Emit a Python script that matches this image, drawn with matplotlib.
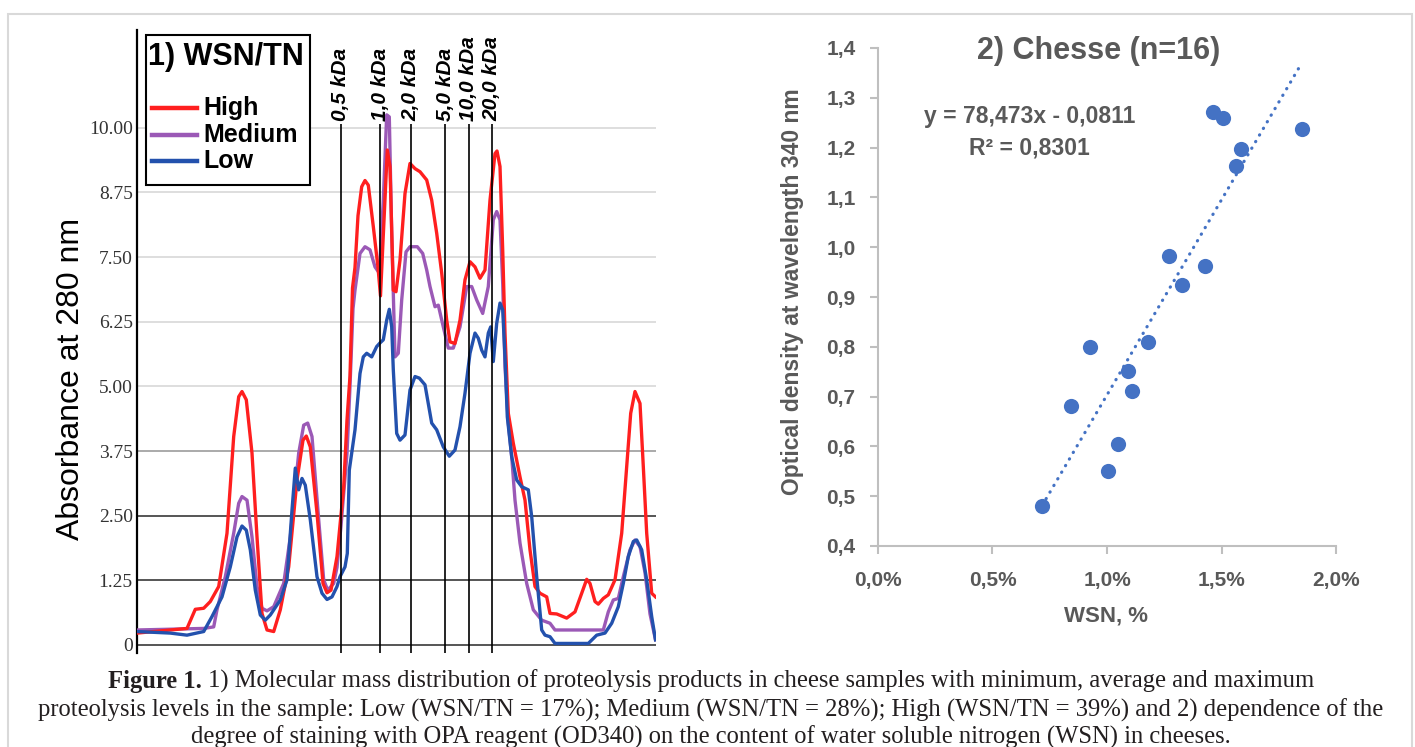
import numpy as np
import matplotlib.pyplot as plt
from matplotlib.lines import Line2D
from matplotlib.patches import Rectangle

plt.rcParams['font.family'] = ['Liberation Sans', 'DejaVu Sans']

# ---- panel 1: absorbance at 280 nm vs elution position (arbitrary units) ----
high_x = [137, 187, 195.3, 203.7, 210.3, 218.7, 227, 233.7, 238.7, 242, 246.3, 252, 257, 262, 267,
          273.7, 280.3, 288.7, 297, 303, 306.3, 310.3, 317, 323, 327, 331, 337, 343.7, 347, 350,
          352.5, 355, 358, 361.7, 365, 368.3, 373.3, 378, 380.5, 383, 387.3, 390, 393.3, 396, 400,
          405, 410, 415, 420, 426.7, 431.7, 436.7, 441.7, 446.7, 450, 455, 460, 465, 470, 475,
          480, 485, 490, 495, 497, 500, 502.7, 505, 508.3, 513.3, 520, 525, 530, 535, 540, 546.7,
          550, 556.7, 566.7, 575, 581.7, 586.7, 590, 595, 598.3, 603.3, 608.3, 615, 621.7, 626.7,
          630.7, 635, 640, 643.3, 646.7, 651.7, 655.5]
high_y = [0.23, 0.32, 0.69, 0.71, 0.84, 1.13, 2.16, 4.03, 4.80, 4.90, 4.74, 3.71, 2.09, 0.61, 0.29,
          0.26, 0.68, 1.51, 3.19, 3.96, 4.04, 3.83, 2.55, 1.19, 1.01, 1.06, 1.71, 3.06, 4.35, 5.2,
          6.9, 7.3, 8.3, 8.86, 8.98, 8.89, 8.09, 7.3, 6.75, 7.8, 9.57, 9.25, 6.86, 6.83, 7.44,
          8.73, 9.31, 9.21, 9.15, 8.99, 8.60, 7.96, 7.19, 6.28, 5.86, 5.83, 6.28, 7.06, 7.41, 7.31,
          7.09, 7.25, 8.60, 9.50, 9.55, 9.25, 7.64, 6.03, 4.48, 3.90, 3.25, 2.80, 1.84, 1.13, 1.00, 0.93,
          0.61, 0.60, 0.52, 0.64, 1.00, 1.27, 1.19, 0.84, 0.79, 0.90, 0.97, 1.26, 2.16, 3.45,
          4.48, 4.90, 4.67, 3.45, 2.16, 1.00, 0.93]

medium_x = [137, 203.7, 213.7, 217, 225.3, 233.7, 238.7, 242, 247, 252, 257, 262, 267, 273.7, 283.7,
            290.3, 298.7, 303.7, 307.7, 312, 318.7, 323.7, 327.7, 333.7, 337, 341, 344, 347, 350,
            353, 355, 360, 365, 370, 375, 379.3, 383.3, 386.7, 389.3, 391.7, 395, 398.3, 401.7,
            406, 410, 417.3, 422.7, 426.7, 430, 435, 438.3, 443.3, 448.3, 453.3, 460, 466.7, 471.7,
            476.7, 482.7, 488.3, 493.3, 496.7, 500, 502.7, 505, 508.3, 511.7, 515, 520, 526.7,
            533.3, 541.7, 550, 555, 603.3, 608.3, 613.3, 618.3, 623.3, 630, 635, 640, 645, 650, 655.5]
medium_y = [0.29, 0.32, 0.35, 0.68, 1.32, 2.16, 2.74, 2.87, 2.80, 2.09, 1.13, 0.71, 0.66, 0.74, 1.19,
            2.09, 3.71, 4.25, 4.29, 4.03, 2.42, 1.26, 1.06, 1.19, 1.5, 2.3, 3.0, 3.7, 5.0,
            6.5, 6.86, 7.57, 7.70, 7.64, 7.31, 7.19, 8.60, 10.25, 10.21, 7.96, 5.57, 5.64, 6.67,
            7.60, 7.70, 7.70, 7.57, 7.25, 6.93, 6.54, 6.57, 6.15, 5.74, 5.74, 6.15, 6.93, 6.93,
            6.67, 6.41, 6.93, 8.22, 8.38, 8.22, 7.0, 5.38, 4.29, 3.64, 2.80, 1.97, 1.19,
            0.68, 0.48, 0.42, 0.29, 0.29, 0.64, 0.87, 0.90, 1.32, 1.84, 2.03, 1.90, 1.4, 0.6, 0.1]

low_x = [137, 170.3, 187, 203.7, 212, 222, 230.3, 237, 242, 246.3, 250.3, 255.3, 260.3, 265.3, 270.3,
         280.3, 287, 292, 295.3, 298.7, 302, 305.3, 310.3, 317, 322, 327, 332, 337, 340, 345,
         347.3, 349.3, 351.7, 355, 360, 363.3, 366.7, 371.7, 376.7, 380, 383.3, 386.7, 389.3,
         391.7, 393.3, 396.7, 400, 405, 410, 415, 419.3, 425, 431.7, 436.7, 443.3, 449.3, 455,
         460, 465, 470, 475, 478.3, 481.7, 485, 488.3, 490.7, 493.3, 496.7, 500, 502.7, 505,
         507.3, 511.7, 516.7, 521.7, 528.3, 531.7, 536.7, 541.7, 545, 550, 555, 588.3, 596.7,
         605, 611.7, 618.3, 623.3, 628.3, 633.3, 636.7, 641.7, 646.7, 651.7, 655.5]
low_y = [0.26, 0.23, 0.19, 0.26, 0.55, 0.93, 1.51, 2.09, 2.30, 2.22, 1.84, 1.06, 0.58, 0.48, 0.58,
         0.87, 1.26, 2.61, 3.42, 3.0, 3.22, 3.09, 2.42, 1.32, 1.00, 0.88, 0.93, 1.13, 1.32, 1.51,
         1.77, 3.38, 3.71, 4.16, 5.25, 5.57, 5.64, 5.57, 5.77, 5.84, 5.90, 6.28, 6.49,
         6.15, 5.32, 4.09, 3.96, 4.06, 4.93, 5.19, 5.16, 5.03, 4.29, 4.16, 3.83, 3.65, 3.77,
         4.22, 4.87, 5.64, 6.03, 5.93, 5.70, 5.57, 6.03, 6.15, 5.48, 6.22, 6.61, 6.48, 5.57,
         4.41, 3.64, 3.19, 3.06, 3.00, 2.48, 1.32, 0.29, 0.19, 0.16, 0.03, 0.03, 0.19,
         0.23, 0.42, 0.74, 1.19, 1.71, 2.00, 2.03, 1.84, 1.26, 0.55, 0.10]

series_names = ['High', 'Medium', 'Low']
series_colors = {'High': '#ff1f1f', 'Medium': '#9b59b6', 'Low': '#2351ad'}

kda_pos = [340.6, 380.4, 411.2, 445.1, 468.8, 492.0]
kda_labels = ['0,5 kDa', '1,0 kDa', '2,0 kDa', '5,0 kDa', '10,0 kDa', '20,0 kDa']
abs_ticks = [0, 1.25, 2.5, 3.75, 5.0, 6.25, 7.5, 8.75, 10.0]
abs_tick_labels = ['0', '1.25', '2.50', '3.75', '5.00', '6.25', '7.50', '8.75', '10.00']

# ---- panel 2: OD340 vs WSN (%) ----
wsn = [1.462, 1.507, 1.849, 1.583, 1.562, 1.270, 1.426, 1.326,
       1.177, 0.926, 1.093, 1.108, 0.841, 1.046, 1.004, 0.717]
od340 = [1.271, 1.259, 1.237, 1.197, 1.163, 0.983, 0.962, 0.924,
         0.809, 0.800, 0.751, 0.711, 0.681, 0.604, 0.551, 0.480]
slope, intercept = 78.473, -0.0811
r2 = 0.8301

W, H = 1415, 747
fig = plt.figure(figsize=(W / 100, H / 100), dpi=100)


def fx(px):
    return px / W


def fy(py):
    return 1 - py / H


# ---------------- left panel ----------------
ax1 = fig.add_axes([fx(137), fy(653), fx(655.5) - fx(137), fy(30) - fy(653)])
ax1.set_xlim(137, 655.5)
ax1.set_ylim(-0.155, 11.89)

for v in abs_ticks:
    if v >= 5:
        c = '#dedede'
    elif v == 3.75:
        c = '#aaaaaa'
    else:
        c = '#555555'
    ax1.axhline(v, color=c, lw=1.4, zorder=1)

ax1.plot(medium_x, medium_y, color=series_colors['Medium'], lw=2.4, zorder=3)
ax1.plot(high_x, high_y, color=series_colors['High'], lw=2.4, zorder=3)
ax1.plot(low_x, low_y, color=series_colors['Low'], lw=2.4, zorder=3)

ax1.vlines(kda_pos, -0.155, 10.07, color='black', lw=1.2, zorder=5)
for x, lab in zip(kda_pos, kda_labels):
    ax1.text(x, 10.13, lab, rotation=90, ha='center', va='bottom',
             fontsize=15, fontweight='bold', fontstyle='italic')

ax1.set_xticks([])
ax1.set_yticks(abs_ticks)
ax1.set_yticklabels(abs_tick_labels, family='Liberation Serif')
ax1.tick_params(axis='y', length=0, pad=3, labelsize=14, labelcolor='#333333')
for s in ['top', 'right', 'bottom']:
    ax1.spines[s].set_visible(False)
ax1.spines['left'].set_linewidth(1.6)

fig.text(fx(71.5), fy(379), 'Absorbance at 280 nm', rotation=90,
         ha='center', va='center', fontsize=23)

# legend box drawn by hand so the spacing matches
fig.add_artist(Rectangle((fx(145.5), fy(185)), fx(310) - fx(145.5), fy(34.5) - fy(185),
                         transform=fig.transFigure, facecolor='white', edgecolor='black',
                         lw=1.5, zorder=10))
fig.text(fx(148), fy(56.5), '1) WSN/TN', ha='left', va='center', fontsize=22,
         fontweight='bold', zorder=11)
for i, name in enumerate(series_names):
    yy = fy(108 + i * 26.5)
    fig.add_artist(Line2D([fx(151.5), fx(197)], [yy, yy], transform=fig.transFigure,
                          color=series_colors[name], lw=3.2, zorder=11))
    fig.text(fx(203), yy, name, ha='left', va='center', fontsize=18,
             fontweight='bold', zorder=11)

# ---------------- right panel ----------------
ax2 = fig.add_axes([fx(877.8), fy(546), fx(1336.4) - fx(877.8), fy(48) - fy(546)])
ax2.scatter(wsn, od340, s=120, color='#4472C4', linewidths=0, zorder=3)
xs = np.array([min(wsn), max(wsn)])
ax2.plot(xs, slope * xs / 100 + intercept, color='#4472C4', lw=2.3,
         linestyle=(0, (0.1, 2.3)), dash_capstyle='round', zorder=2)

ax2.set_xlim(0, 2.0)
ax2.set_ylim(0.4, 1.4)
xt = [0, 0.5, 1.0, 1.5, 2.0]
yt = [0.4, 0.5, 0.6, 0.7, 0.8, 0.9, 1.0, 1.1, 1.2, 1.3, 1.4]
ax2.set_xticks(xt)
ax2.set_xticklabels([f'{v:.1f}%'.replace('.', ',') for v in xt])
ax2.set_yticks(yt)
ax2.set_yticklabels([f'{v:.1f}'.replace('.', ',') for v in yt])
for s in ['top', 'right']:
    ax2.spines[s].set_visible(False)
for s in ['left', 'bottom']:
    ax2.spines[s].set_color('#bfbfbf')
    ax2.spines[s].set_linewidth(1.5)
ax2.tick_params(length=6, width=1.5, color='#bfbfbf', labelcolor='#595959', labelsize=15)
ax2.tick_params(axis='y', pad=10)
ax2.tick_params(axis='x', pad=12)
for lab in ax2.get_xticklabels() + ax2.get_yticklabels():
    lab.set_fontweight('bold')

grey = '#595959'
fig.text(fx(1098.5), fy(51), '2) Chesse (n=16)', ha='center', va='center',
         fontsize=22, fontweight='bold', color=grey)
fig.text(fx(1029.5), fy(117), 'y = 78,473x - 0,0811', ha='center', va='center',
         fontsize=16.5, fontweight='bold', color=grey)
fig.text(fx(1029.5), fy(148), 'R² = ' + f'{r2:.4f}'.replace('.', ','), ha='center', va='center',
         fontsize=16.5, fontweight='bold', color=grey)
fig.text(fx(793), fy(292), 'Optical density at wavelength 340 nm', rotation=90,
         ha='center', va='center', fontsize=16.5, fontweight='bold', color=grey)
fig.text(fx(1106.5), fy(616), 'WSN, %', ha='center', va='center',
         fontsize=16, fontweight='bold', color=grey)

# ---------------- frame and caption ----------------
fig.add_artist(Rectangle((fx(8), -0.05), fx(1412) - fx(8), fy(14) + 0.05,
                         transform=fig.transFigure, fill=False, edgecolor='#d9d9d9', lw=1.5))

cap_font = dict(family='Liberation Serif', fontsize=17.7, color='#231f20', va='center')
renderer = fig.canvas.get_renderer()
t_bold = fig.text(0, fy(681.7), 'Figure 1.', fontweight='bold', ha='left', **cap_font)
t_rest = fig.text(0, fy(681.7), '1) Molecular mass distribution of proteolysis products in cheese '
                  'samples with minimum, average and maximum', ha='left', **cap_font)
w_b = t_bold.get_window_extent(renderer).width
w_r = t_rest.get_window_extent(renderer).width
gap = 6
x0 = 711 - (w_b + gap + w_r) / 2
t_bold.set_x(fx(x0))
t_rest.set_x(fx(x0 + w_b + gap))
fig.text(fx(711), fy(710), 'proteolysis levels in the sample: Low (WSN/TN = 17%); Medium '
         '(WSN/TN = 28%); High (WSN/TN = 39%) and 2) dependence of the', ha='center', **cap_font)
fig.text(fx(711), fy(737), 'degree of staining with OPA reagent (OD340) on the content of water '
         'soluble nitrogen (WSN) in cheeses.', ha='center', **cap_font)

fig.savefig('out.png', dpi=100)
